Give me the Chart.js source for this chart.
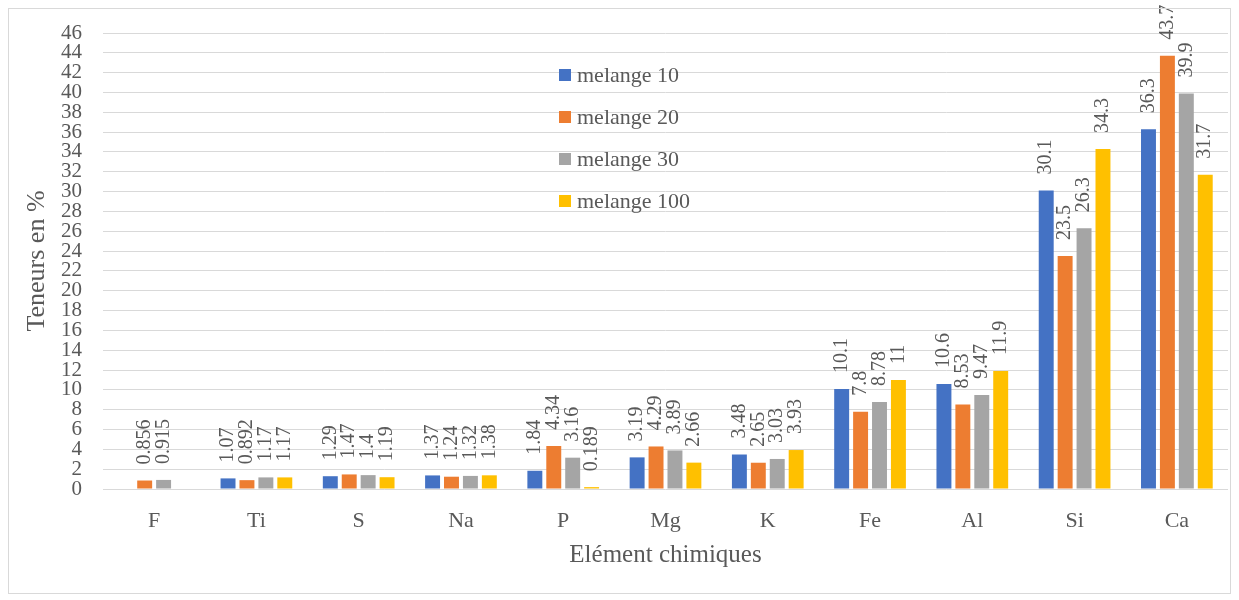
<!DOCTYPE html>
<html>
<head>
<meta charset="utf-8">
<script src="https://cdn.jsdelivr.net/npm/chart.js@4/dist/chart.umd.min.js"></script>
<style>
body { margin: 0; background: #fff; }
#wrap { position: absolute; left: 0; top: 0; width: 1239px; height: 600px; }
#frame { position: absolute; left: 8px; top: 8px; width: 1221px; height: 584px; border: 1px solid #d9d9d9; }
</style>
</head>
<body>
<div id="wrap">
  <div id="frame"></div>
  <canvas id="myChart" width="1239" height="600"></canvas>
</div>
<script>
// elements on the x axis
var elements = ["F", "Ti", "S", "Na", "P", "Mg", "K", "Fe", "Al", "Si", "Ca"];
var seriesNames = ["melange 10", "melange 20", "melange 30", "melange 100"];
// teneurs en % (null = no bar in the original)
var melange10  = [null, 1.07, 1.29, 1.37, 1.84, 3.19, 3.48, 10.1, 10.6, 30.1, 36.3];
var melange20  = [0.856, 0.892, 1.47, 1.24, 4.34, 4.29, 2.65, 7.8, 8.53, 23.5, 43.7];
var melange30  = [0.915, 1.17, 1.4, 1.32, 3.16, 3.89, 3.03, 8.78, 9.47, 26.3, 39.9];
var melange100 = [null, 1.17, 1.19, 1.38, 0.189, 2.66, 3.93, 11, 11.9, 34.3, 31.7];
var yMin = 0, yMax = 46, yStep = 2;

var colors = ["#4472C4", "#ED7D31", "#A5A5A5", "#FFC000"];
var textColor = "#595959";
var serif = "'Liberation Serif', 'Times New Roman', serif";

// value labels written vertically above each bar
var barLabels = {
    id: 'barLabels',
    afterDatasetsDraw: function(chart){
        var ctx = chart.ctx;
        ctx.save();
        ctx.font = "20px " + serif;
        ctx.fillStyle = textColor;
        ctx.textAlign = "left";
        ctx.textBaseline = "middle";
        chart.data.datasets.forEach(function(ds, i){
            var meta = chart.getDatasetMeta(i);
            meta.data.forEach(function(bar, j){
                var v = ds.data[j];
                if (v === null || v === undefined) return;
                ctx.save();
                ctx.translate(bar.x, bar.y - 16);
                ctx.rotate(-Math.PI / 2);
                ctx.fillText(String(v), 0, 0);
                ctx.restore();
            });
        });
        ctx.restore();
    }
};

// legend sits inside the plot, stacked
var innerLegend = {
    id: 'innerLegend',
    afterDraw: function(chart){
        var ctx = chart.ctx;
        var lx = 559, ly = 75, gap = 42;
        ctx.save();
        ctx.font = "22px " + serif;
        ctx.textBaseline = "middle";
        ctx.textAlign = "left";
        chart.data.datasets.forEach(function(ds, i){
            var y = ly + i * gap;
            ctx.fillStyle = ds.backgroundColor;
            ctx.fillRect(lx, y - 6, 12, 12);
            ctx.fillStyle = textColor;
            ctx.fillText(ds.label, lx + 18, y + 1);
        });
        ctx.restore();
    }
};

var allSeries = [melange10, melange20, melange30, melange100];
var datasets = [];
allSeries.forEach(function(s, i){
    datasets.push({
        label: seriesNames[i],
        data: s,
        backgroundColor: colors[i],
        categoryPercentage: 0.74,
        barPercentage: 0.79
    });
});

var config = {
    type: 'bar',
    data: { labels: elements, datasets: datasets },
    options: {
        responsive: false,
        animation: false,
        layout: { padding: { top: 33, right: 11, left: 0, bottom: 0 } },
        plugins: {
            legend: { display: false },
            tooltip: { enabled: false }
        },
        scales: {
            x: {
                grid: { display: false },
                border: { display: false },
                ticks: { color: textColor, font: { family: serif, size: 22 }, padding: 11 },
                title: { display: true, text: "Elément chimiques", color: textColor,
                         font: { family: serif, size: 25 }, padding: { top: 8, bottom: 30 } },
                afterFit: function(s){ s.height = 111; }
            },
            y: {
                min: yMin,
                max: yMax,
                grid: { color: "#d9d9d9", lineWidth: 1, drawTicks: false },
                border: { display: false },
                ticks: { stepSize: yStep, autoSkip: false, color: textColor,
                         font: { family: serif, size: 21, lineHeight: 1 }, padding: 21 },
                title: { display: true, text: "Teneurs en %", color: textColor,
                         font: { family: serif, size: 26 }, padding: { top: 22, bottom: 0 } },
                afterFit: function(s){ s.width = 103; }
            }
        }
    },
    plugins: [barLabels, innerLegend]
};

var myChart = new Chart(document.getElementById('myChart'), config);
</script>
</body>
</html>
